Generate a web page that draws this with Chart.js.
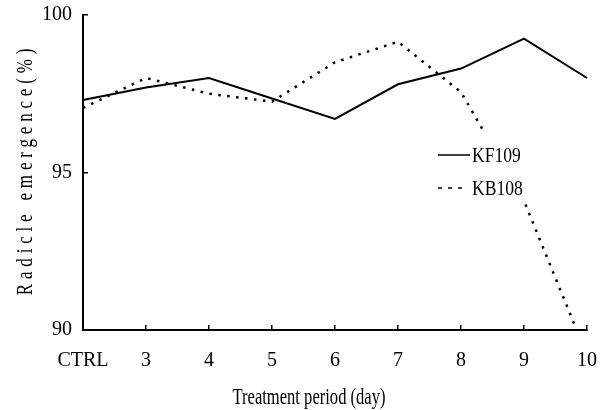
<!DOCTYPE html>
<html>
<head>
<meta charset="utf-8">
<script src="https://cdn.jsdelivr.net/npm/chart.js@4.4.1/dist/chart.umd.min.js"></script>
<style>
  html, body { margin: 0; padding: 0; background: #fff; }
  canvas { display: block; }
</style>
</head>
<body>
<canvas id="myChart" width="608" height="410"></canvas>
<script>
// values
var categories = ['CTRL', '3', '4', '5', '6', '7', '8', '9', '10'];
var kf109 = [97.3, 97.7, 98.0, 97.35, 96.7, 97.8, 98.3, 99.25, 98.0];
var kb108 = [97.05, 98.0, 97.5, 97.25, 98.5, 99.15, 97.55, 94.1, 89.2];
var yTickValues = [90, 95, 100];
var seriesNames = ['KF109', 'KB108'];
var xTitle = 'Treatment period (day)';
var yTitle = 'Radicle emergence(%)';

var serif = '"Liberation Serif", "DejaVu Serif", serif';

// axis titles, drawn squeezed and spaced like the original typeface
var axisTitles = {
	id: 'axisTitles',
	afterDraw: function(chart){
		var ctx = chart.ctx;
		var area = chart.chartArea;
		ctx.save();
		ctx.fillStyle = '#000';
		ctx.font = '23px ' + serif;
		ctx.textAlign = 'center';
		ctx.textBaseline = 'alphabetic';

		// x title
		ctx.save();
		ctx.translate(309, 404);
		ctx.scale(0.72, 1);
		ctx.fillText(xTitle, 0, 0);
		ctx.restore();

		// y title
		ctx.save();
		ctx.translate(32, (area.top + area.bottom) / 2);
		ctx.rotate(-Math.PI / 2);
		ctx.scale(0.74, 1);
		ctx.letterSpacing = '6.5px';
		ctx.fillText(yTitle, 4, 0);
		ctx.restore();

		ctx.restore();
	}
};

// legend sitting inside the plot on a white patch
var innerLegend = {
	id: 'innerLegend',
	afterDatasetsDraw: function(chart){
		var ctx = chart.ctx;
		var area = chart.chartArea;
		var x0 = area.left + 355;
		var y0 = area.top + 140;
		ctx.save();
		ctx.fillStyle = '#fff';
		ctx.fillRect(x0 - 4, y0 - 23, 96, 71);
		chart.data.datasets.forEach(function(ds, i){
			var y = y0 + i * 33;
			ctx.beginPath();
			ctx.strokeStyle = '#000';
			ctx.lineWidth = 1.5;
			ctx.setLineDash(i === 0 ? [] : [4, 6]);
			ctx.moveTo(x0, y);
			ctx.lineTo(i === 0 ? x0 + 32 : x0 + 25, y);
			ctx.stroke();
			ctx.setLineDash([]);
			ctx.save();
			ctx.fillStyle = '#000';
			ctx.font = '22px ' + serif;
			ctx.textBaseline = 'alphabetic';
			ctx.translate(x0 + 34, y + 7);
			ctx.scale(0.8, 1);
			ctx.fillText(ds.label, 0, 0);
			ctx.restore();
		});
		ctx.restore();
	}
};

var ctx = document.getElementById('myChart');
var lineChart = new Chart(ctx, {
	type: 'line',
	data: {
		labels: categories,
		datasets: [{
			label: seriesNames[0],
			data: kf109,
			borderColor: '#000',
			borderWidth: 2,
			pointRadius: 0,
			tension: 0,
			fill: false
		}, {
			label: seriesNames[1],
			data: kb108,
			borderColor: '#000',
			borderWidth: 2.5,
			borderDash: [2.5, 6.5],
			pointRadius: 0,
			tension: 0,
			fill: false
		}]
	},
	options: {
		responsive: false,
		animation: false,
		layout: { padding: { left: 0, top: 15, right: 21, bottom: 0 } },
		plugins: {
			legend: { display: false },
			tooltip: { enabled: false }
		},
		scales: {
			x: {
				offset: false,
				grid: { drawOnChartArea: false, tickLength: -5, color: '#000', lineWidth: 1.5 },
				border: { color: '#000', width: 2 },
				ticks: { color: '#000', font: { family: serif, size: 20 }, padding: 24, maxRotation: 0, autoSkip: false },
				afterFit: function(scale){
					scale.height = 80;
					scale.paddingLeft = 0;
					scale.paddingRight = 0;
				}
			},
			y: {
				min: 90,
				max: 100,
				grid: { drawOnChartArea: false, tickLength: -5, color: '#000', lineWidth: 1.5 },
				border: { color: '#000', width: 2 },
				ticks: { color: '#000', font: { family: serif, size: 20 }, padding: 16 },
				afterBuildTicks: function(scale){
					scale.ticks = yTickValues.map(function(v){ return { value: v }; });
				},
				afterFit: function(scale){
					scale.width = 83;
					scale.paddingTop = 0;
					scale.paddingBottom = 0;
				}
			}
		}
	},
	plugins: [innerLegend, axisTitles]
});
</script>
</body>
</html>
